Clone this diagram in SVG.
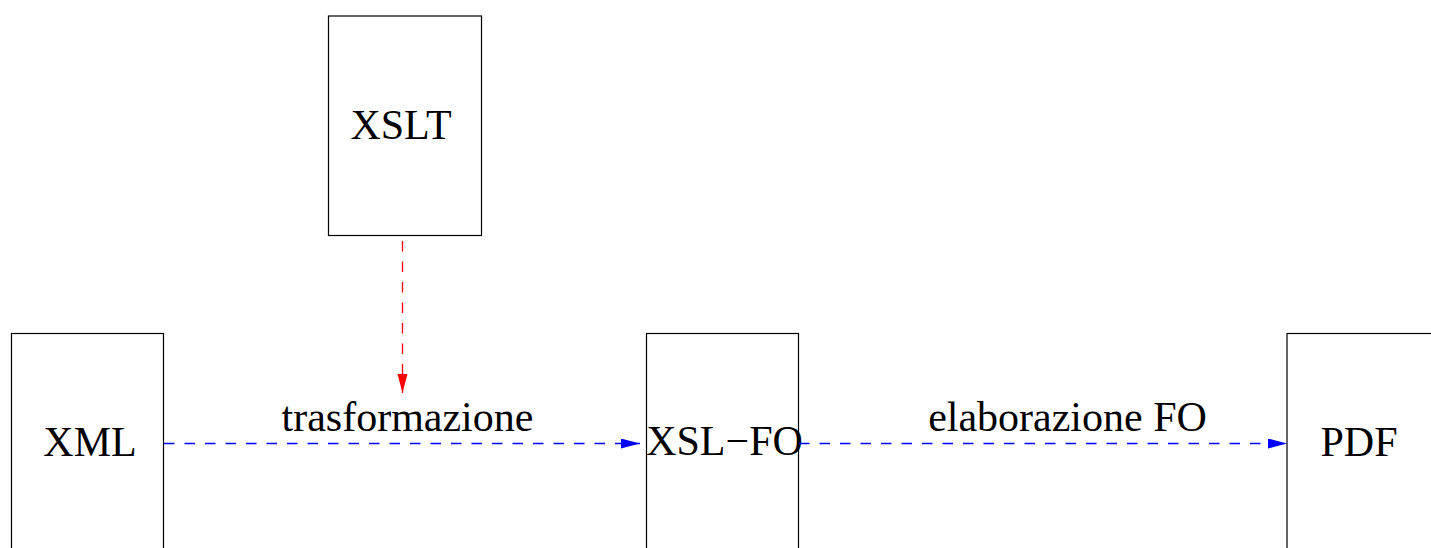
<svg xmlns="http://www.w3.org/2000/svg" width="1431" height="548" viewBox="0 0 1431 548">
  <style>
    .box { fill: #ffffff; stroke: #000000; stroke-width: 1.2; }
    .lbl { font-family: "Liberation Serif", "Times New Roman", serif; font-size: 42px; fill: #000000; text-anchor: middle; }
    .red { stroke: #ff0000; stroke-width: 1.3; stroke-dasharray: 10.5 10; fill: none; }
    .blue { stroke: #0000ff; stroke-width: 1.3; stroke-dasharray: 10.5 10; fill: none; }
  </style>
  <defs>
    <marker id="arrRed" markerUnits="userSpaceOnUse" markerWidth="20" markerHeight="12" refX="19" refY="5" orient="auto">
      <path d="M0,0 L19,5 L0,10 Z" fill="#ff0000"/>
    </marker>
    <marker id="arrBlue" markerUnits="userSpaceOnUse" markerWidth="20" markerHeight="12" refX="19" refY="5" orient="auto">
      <path d="M0,0 L19,5 L0,10 Z" fill="#0000ff"/>
    </marker>
  </defs>
  <rect width="1431" height="548" fill="#ffffff"/>
  <g id="node-xslt">
    <rect class="box" x="328.5" y="16" width="153" height="219.5"/>
    <text class="lbl" x="401" y="139">XSLT</text>
  </g>
  <g id="node-xml">
    <rect class="box" x="11.5" y="333.5" width="152" height="300"/>
    <text class="lbl" x="90" y="456">XML</text>
  </g>
  <g id="node-xslfo">
    <rect class="box" x="646.5" y="333.5" width="152" height="300"/>
    <text class="lbl" x="724.5" y="455">XSL−FO</text>
  </g>
  <g id="node-pdf">
    <rect class="box" x="1287" y="333.5" width="152" height="300"/>
    <text class="lbl" x="1359" y="456">PDF</text>
  </g>
  <g id="connectors">
    <line class="red" x1="402.5" y1="241" x2="402.5" y2="393" marker-end="url(#arrRed)"/>
    <line class="blue" x1="164" y1="443.5" x2="640" y2="443.5" marker-end="url(#arrBlue)"/>
    <text class="lbl" x="407.5" y="431">trasformazione</text>
    <line class="blue" x1="799" y1="443.5" x2="1287" y2="443.5" marker-end="url(#arrBlue)"/>
    <text class="lbl" x="1067.5" y="431">elaborazione FO</text>
  </g>
</svg>
